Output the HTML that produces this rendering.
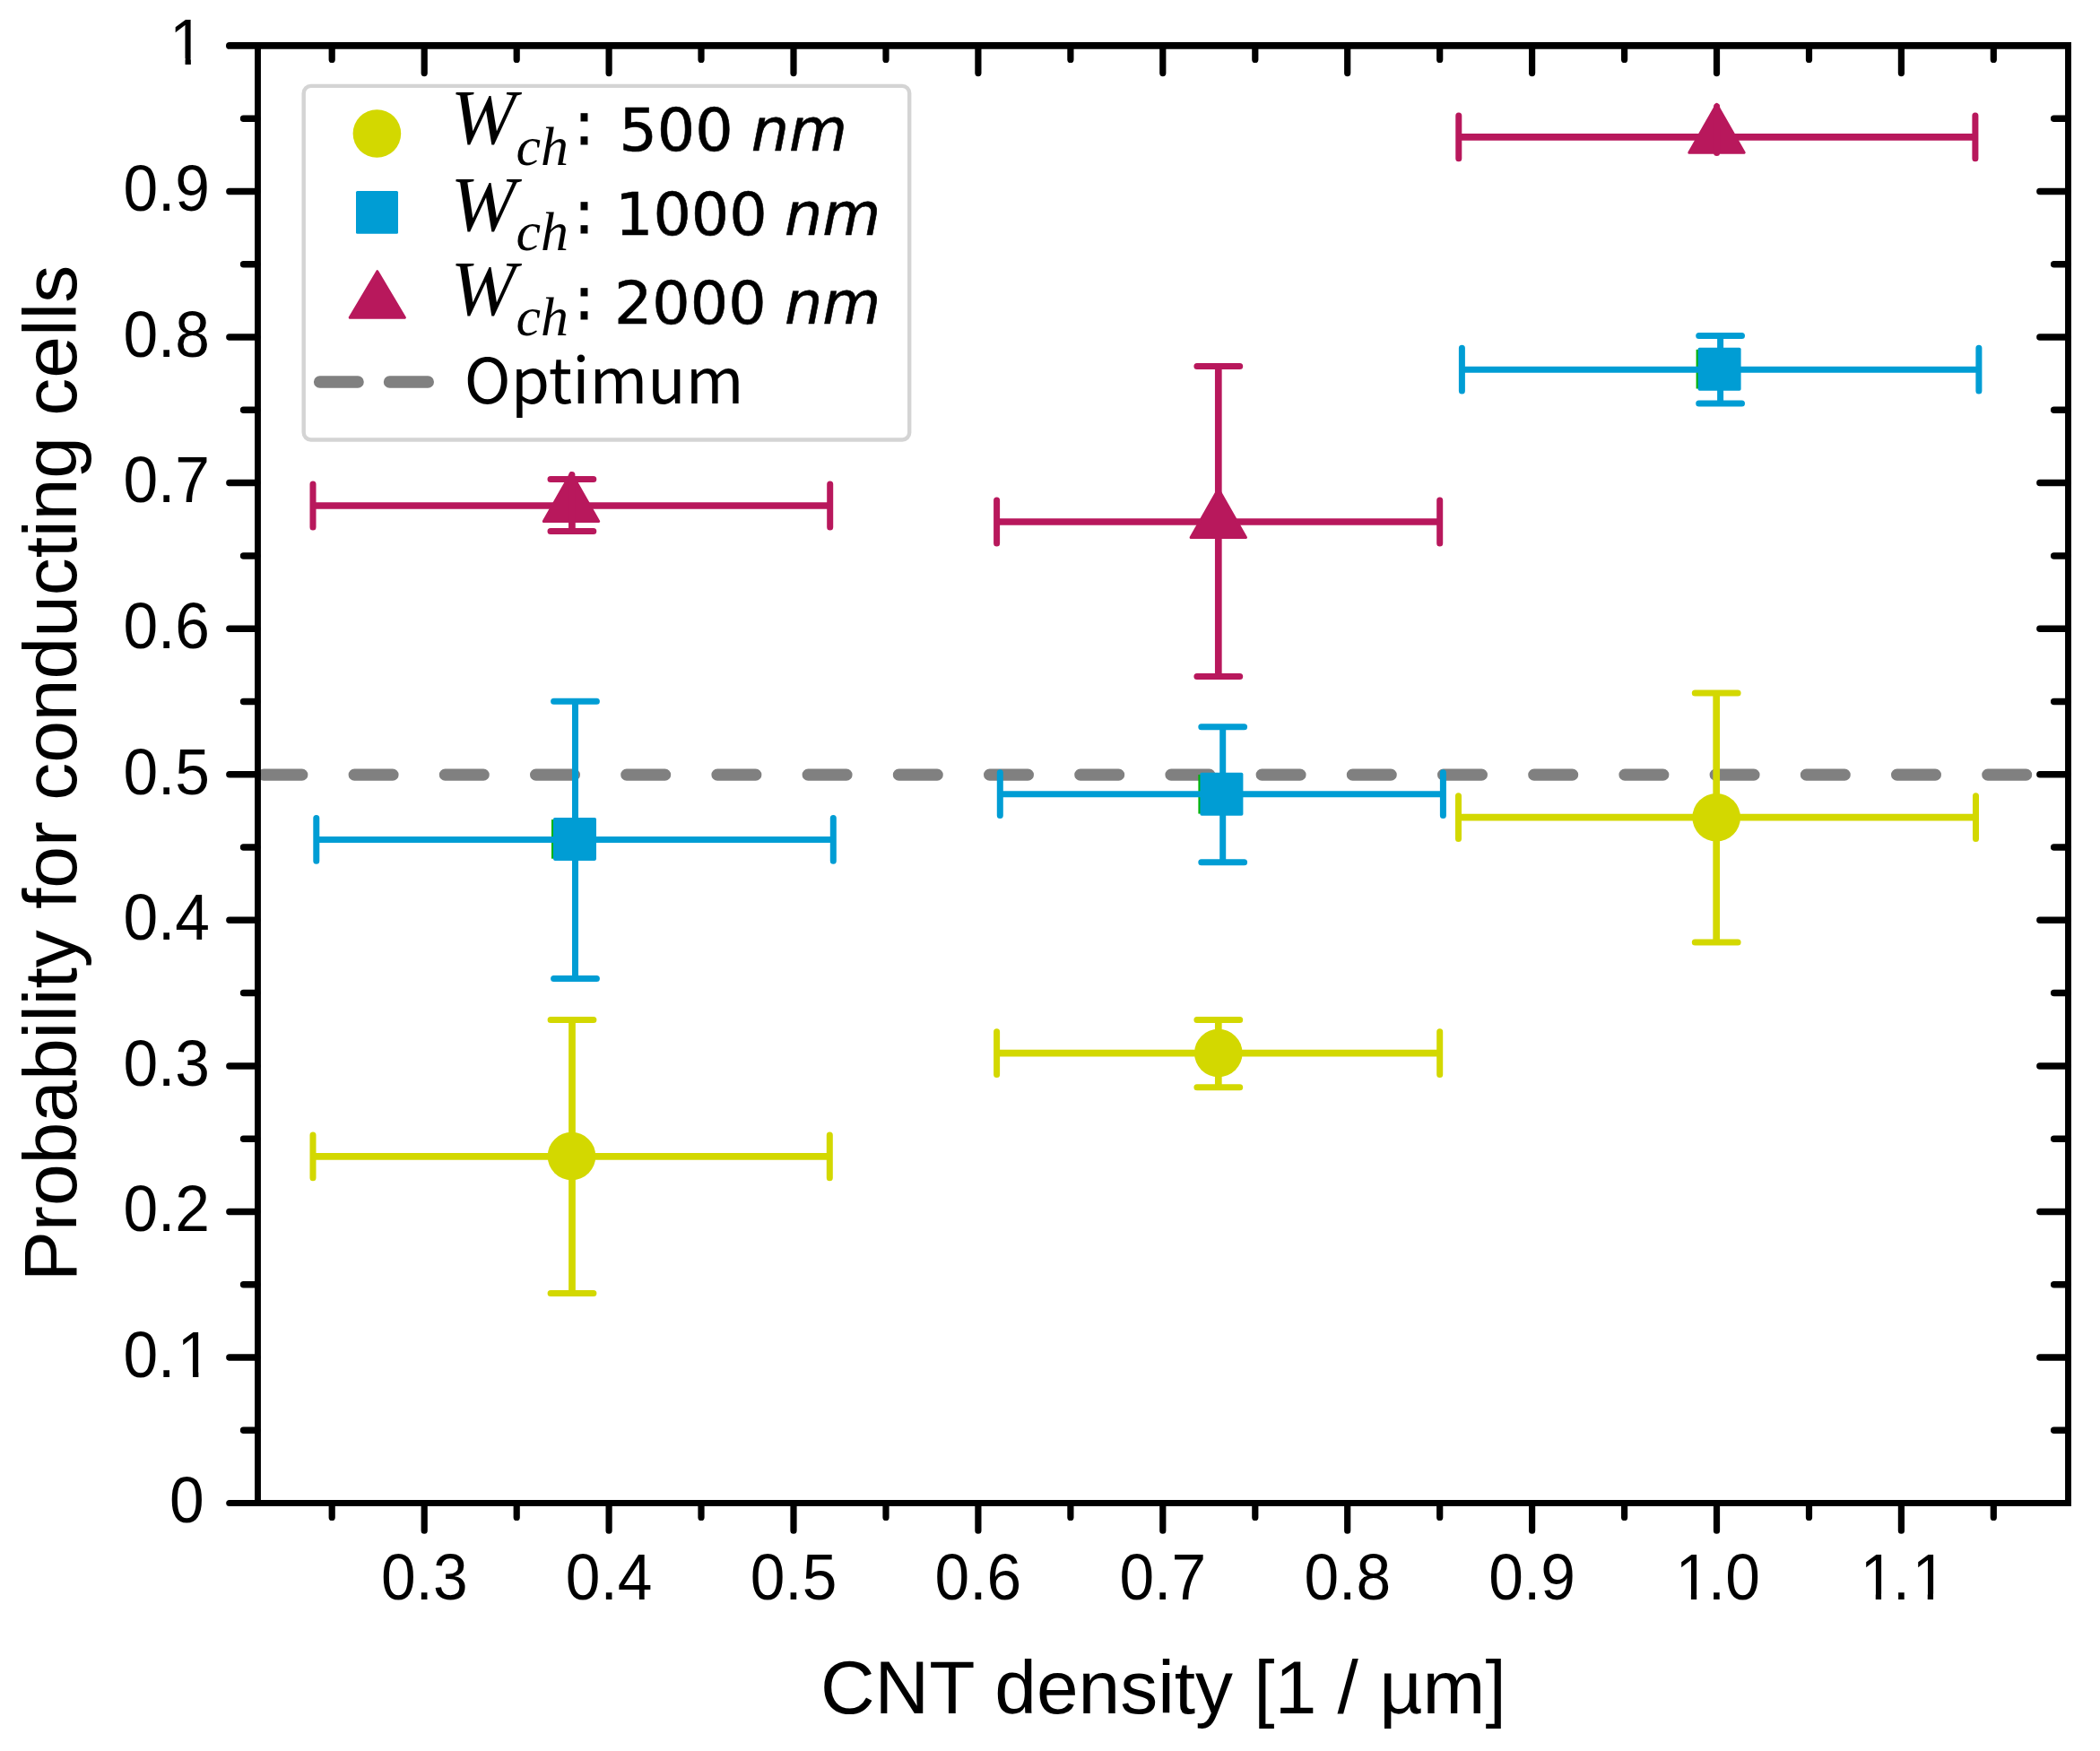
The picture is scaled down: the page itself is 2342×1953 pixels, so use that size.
<!DOCTYPE html>
<html lang="en"><head><meta charset="utf-8"><title>Probability for conducting cells vs CNT density</title>
<style>html,body{margin:0;padding:0;background:#fff;}body{width:2342px;height:1953px;overflow:hidden;}svg{display:block;}
.tl{font-family:"Liberation Sans",sans-serif;font-size:69.5px;fill:#000;}
.al{font-family:"Liberation Sans",sans-serif;font-size:83.9px;fill:#000;}
.lg{font-family:"DejaVu Sans","Liberation Sans",sans-serif;font-size:66.7px;fill:#000;stroke:#000;stroke-width:0.6px;}
.cl{stroke-width:1.1px;}
.op{font-family:"Noto Sans CJK SC","DejaVu Sans","Liberation Sans",sans-serif;font-size:70px;fill:#000;}
.mi{font-family:"Liberation Serif","DejaVu Serif",serif;font-style:italic;fill:#000;}
</style></head><body>
<svg width="2342" height="1953" viewBox="0 0 2342 1953">
<rect width="2342" height="1953" fill="#fff"/>
<g stroke="#808080" stroke-width="13.2" stroke-linecap="round" fill="none">
<path d="M294.0 864.2H336.8M395.2 864.2H438.0M496.4 864.2H539.2M597.6 864.2H640.4M698.8 864.2H741.6M800.0 864.2H842.8M901.2 864.2H944.0M1002.4 864.2H1045.2M1103.6 864.2H1146.4M1204.8 864.2H1247.6M1306.0 864.2H1348.8M1407.2 864.2H1450.0M1508.4 864.2H1551.2M1609.6 864.2H1652.4M1710.8 864.2H1753.6M1812.0 864.2H1854.8M1913.2 864.2H1956.0M2014.4 864.2H2057.2M2115.6 864.2H2158.4M2216.8 864.2H2259.6"/>
</g>
<g id="series-500">
<g stroke="#d3d800" fill="none"><path stroke-width="7.7" d="M349.0 1289.9H925.3"/><path stroke-width="7.0" stroke-linecap="round" d="M349.0 1266.0V1313.8M925.3 1266.0V1313.8"/><path stroke-width="7.7" d="M638.0 1137.4V1442.4"/><path stroke-width="7.0" stroke-linecap="round" d="M614.1 1137.4H661.9M614.1 1442.4H661.9"/></g>
<circle cx="637.5" cy="1289.6" r="26.8" fill="#d3d800"/>
<g stroke="#d3d800" fill="none"><path stroke-width="7.7" d="M1111.6 1174.6H1605.7"/><path stroke-width="7.0" stroke-linecap="round" d="M1111.6 1150.7V1198.5M1605.7 1150.7V1198.5"/><path stroke-width="7.7" d="M1358.8 1137.5V1212.8"/><path stroke-width="7.0" stroke-linecap="round" d="M1334.9 1137.5H1382.7M1334.9 1212.8H1382.7"/></g>
<circle cx="1358.8" cy="1174.6" r="26.8" fill="#d3d800"/>
<g stroke="#d3d800" fill="none"><path stroke-width="7.7" d="M1626.5 911.7H2203.5"/><path stroke-width="7.0" stroke-linecap="round" d="M1626.5 887.8V935.6M2203.5 887.8V935.6"/><path stroke-width="7.7" d="M1914.2 773.0V1051.0"/><path stroke-width="7.0" stroke-linecap="round" d="M1890.3 773.0H1938.1M1890.3 1051.0H1938.1"/></g>
<circle cx="1914.2" cy="911.7" r="26.8" fill="#d3d800"/>
</g>
<g id="series-1000">
<rect x="615.0" y="914.1" width="4" height="43.6" fill="#00b400"/>
<g stroke="#009dd4" fill="none"><path stroke-width="7.0" d="M352.8 936.4H929.3"/><path stroke-width="7.0" stroke-linecap="round" d="M352.8 912.5V960.3M929.3 912.5V960.3"/><path stroke-width="7.0" d="M641.5 782.3V1091.5"/><path stroke-width="7.0" stroke-linecap="round" d="M617.6 782.3H665.4M617.6 1091.5H665.4"/></g>
<rect x="617.0" y="911.9" width="48.0" height="48.0" rx="1.8" fill="#009dd4"/>
<rect x="1336.4" y="864.0" width="4" height="43.6" fill="#00b400"/>
<g stroke="#009dd4" fill="none"><path stroke-width="7.0" d="M1115.3 885.7H1609.4"/><path stroke-width="7.0" stroke-linecap="round" d="M1115.3 861.8V909.6M1609.4 861.8V909.6"/><path stroke-width="7.0" d="M1363.7 810.7V961.7"/><path stroke-width="7.0" stroke-linecap="round" d="M1339.8 810.7H1387.6M1339.8 961.7H1387.6"/></g>
<rect x="1338.4" y="861.8" width="48.0" height="48.0" rx="1.8" fill="#009dd4"/>
<rect x="1891.6" y="389.9" width="4" height="43.6" fill="#00b400"/>
<g stroke="#009dd4" fill="none"><path stroke-width="7.0" d="M1630.4 412.2H2206.9"/><path stroke-width="7.0" stroke-linecap="round" d="M1630.4 388.3V436.1M2206.9 388.3V436.1"/><path stroke-width="7.0" d="M1918.6 374.5V450.0"/><path stroke-width="7.0" stroke-linecap="round" d="M1894.7 374.5H1942.5M1894.7 450.0H1942.5"/></g>
<rect x="1893.6" y="387.7" width="48.0" height="48.0" rx="1.8" fill="#009dd4"/>
</g>
<g id="series-2000">
<g stroke="#b8185c" fill="none"><path stroke-width="7.7" d="M349.0 564.0H925.7"/><path stroke-width="7.0" stroke-linecap="round" d="M349.0 540.1V587.9M925.7 540.1V587.9"/><path stroke-width="7.7" d="M637.9 534.4V592.5"/><path stroke-width="7.0" stroke-linecap="round" d="M614.0 534.4H661.8M614.0 592.5H661.8"/></g>
<path d="M637.0 527.5L667.7 581.4L606.3 581.4Z" fill="#b8185c" stroke="#b8185c" stroke-width="3.0" stroke-linejoin="round"/>
<path d="M637.9 529.4V581.0" stroke="#b8185c" stroke-width="7" stroke-linecap="round" fill="none"/>
<g stroke="#b8185c" fill="none"><path stroke-width="7.7" d="M1111.6 582.0H1605.7"/><path stroke-width="7.0" stroke-linecap="round" d="M1111.6 558.1V605.9M1605.7 558.1V605.9"/><path stroke-width="7.7" d="M1358.8 408.6V754.6"/><path stroke-width="7.0" stroke-linecap="round" d="M1334.9 408.6H1382.7M1334.9 754.6H1382.7"/></g>
<path d="M1358.8 545.5L1389.5 599.4L1328.1 599.4Z" fill="#b8185c" stroke="#b8185c" stroke-width="3.0" stroke-linejoin="round"/>
<g stroke="#b8185c" fill="none"><path stroke-width="7.7" d="M1626.8 152.9H2202.9"/><path stroke-width="7.0" stroke-linecap="round" d="M1626.8 129.0V176.8M2202.9 129.0V176.8"/></g>
<path d="M1914.5 116.4L1945.2 170.3L1883.8 170.3Z" fill="#b8185c" stroke="#b8185c" stroke-width="3.0" stroke-linejoin="round"/>
<path d="M1914.6 118.8V170.4" stroke="#b8185c" stroke-width="7" stroke-linecap="round" fill="none"/>
</g>
<g id="legend">
<rect x="338.7" y="95.9" width="675.5" height="394.6" rx="8" ry="8" fill="#fff" fill-opacity="0.8" stroke="#d4d4d4" stroke-width="4.4"/>
<circle cx="420.4" cy="149.0" r="26.8" fill="#d3d800"/>
<rect x="397.0" y="212.9" width="47.0" height="47.9" rx="1.5" fill="#009dd4"/>
<path d="M420.8 302.7L451.4 354.2L390.2 354.2Z" fill="#b8185c" stroke="#b8185c" stroke-width="3" stroke-linejoin="round"/>
<path d="M356.6 426H399.1M434.5 426H477.3" stroke="#808080" stroke-width="13.4" stroke-linecap="round" fill="none"/>
<text class="mi" x="502.6" y="159.9" font-size="87.5">W</text>
<text class="mi" x="575.6" y="184.4" font-size="62">ch</text>
<text class="lg cl" x="640.2" y="160.9">:</text>
<text class="lg" x="690.4" y="168.0">500</text>
<text class="lg" font-style="italic" x="837.7" y="168.0">nm</text>
<text class="mi" x="502.6" y="256.5" font-size="87.5">W</text>
<text class="mi" x="575.6" y="279.3" font-size="62">ch</text>
<text class="lg cl" x="640.2" y="259.9">:</text>
<text class="lg" x="686.0" y="261.9">1000</text>
<text class="lg" font-style="italic" x="874.9" y="261.9">nm</text>
<text class="mi" x="502.6" y="351.2" font-size="87.5">W</text>
<text class="mi" x="575.6" y="374.4" font-size="62">ch</text>
<text class="lg cl" x="640.2" y="356.3">:</text>
<text class="lg" x="684.9" y="361.0">2000</text>
<text class="lg" font-style="italic" x="874.9" y="361.0">nm</text>
<text class="op" x="517.8" y="449.9">Optimum</text>
</g>
<g id="axes" stroke="#000" fill="none">
<path stroke-width="7.5" stroke-linecap="round" d="M271.6 1595.3H286.9M2290.7 1595.3H2305.9M255.9 1514.0H286.9M2274.9 1514.0H2305.9M271.6 1432.7H286.9M2290.7 1432.7H2305.9M255.9 1351.5H286.9M2274.9 1351.5H2305.9M271.6 1270.2H286.9M2290.7 1270.2H2305.9M255.9 1188.9H286.9M2274.9 1188.9H2305.9M271.6 1107.6H286.9M2290.7 1107.6H2305.9M255.9 1026.3H286.9M2274.9 1026.3H2305.9M271.6 945.0H286.9M2290.7 945.0H2305.9M255.9 863.7H286.9M2274.9 863.7H2305.9M271.6 782.5H286.9M2290.7 782.5H2305.9M255.9 701.2H286.9M2274.9 701.2H2305.9M271.6 619.9H286.9M2290.7 619.9H2305.9M255.9 538.6H286.9M2274.9 538.6H2305.9M271.6 457.3H286.9M2290.7 457.3H2305.9M255.9 376.0H286.9M2274.9 376.0H2305.9M271.6 294.8H286.9M2290.7 294.8H2305.9M255.9 213.5H286.9M2274.9 213.5H2305.9M271.6 132.2H286.9M2290.7 132.2H2305.9"/>
<path stroke-width="7.2" stroke-linecap="round" d="M370.2 51.5V66.4M370.2 1677.1V1692.4M473.2 51.5V81.6M473.2 1677.1V1707.2M576.2 51.5V66.4M576.2 1677.1V1692.4M679.1 51.5V81.6M679.1 1677.1V1707.2M782.0 51.5V66.4M782.0 1677.1V1692.4M885.0 51.5V81.6M885.0 1677.1V1707.2M988.0 51.5V66.4M988.0 1677.1V1692.4M1090.9 51.5V81.6M1090.9 1677.1V1707.2M1193.9 51.5V66.4M1193.9 1677.1V1692.4M1296.8 51.5V81.6M1296.8 1677.1V1707.2M1399.8 51.5V66.4M1399.8 1677.1V1692.4M1502.7 51.5V81.6M1502.7 1677.1V1707.2M1605.7 51.5V66.4M1605.7 1677.1V1692.4M1708.6 51.5V81.6M1708.6 1677.1V1707.2M1811.6 51.5V66.4M1811.6 1677.1V1692.4M1914.5 51.5V81.6M1914.5 1677.1V1707.2M2017.5 51.5V66.4M2017.5 1677.1V1692.4M2120.4 51.5V81.6M2120.4 1677.1V1707.2M2223.3 51.5V66.4M2223.3 1677.1V1692.4"/>
<path stroke-width="7.9" stroke-linecap="round" d="M255.95 50.9H287.50"/>
<path stroke-width="7.2" stroke-linecap="round" d="M255.80 1676.5H287.50"/>
<path stroke-width="7.9" d="M284.05 50.9H2309.95"/>
<path stroke-width="7.2" d="M284.05 1676.5H2309.95"/>
<path stroke-width="6.9" d="M287.5 50.9V1676.5"/>
<path stroke-width="6.9" d="M2306.5 50.9V1676.5"/>
</g>
<g id="ticklabels">
<text class="tl" transform="translate(0 1698.4) scale(1 1.04)" x="189.1">0</text>
<text class="tl" transform="translate(0 1535.8) scale(1 1.04)" x="137.4 176.0 197.6">0.1</text><rect x="201.94" y="1529.63" width="13.10" height="7.20" fill="#fff"/><rect x="221.35" y="1529.63" width="12.56" height="7.20" fill="#fff"/>
<text class="tl" transform="translate(0 1373.3) scale(1 1.04)" x="137.4 176.0 195.3">0.2</text>
<text class="tl" transform="translate(0 1210.7) scale(1 1.04)" x="137.4 176.0 195.3">0.3</text>
<text class="tl" transform="translate(0 1048.1) scale(1 1.04)" x="137.4 176.0 195.3">0.4</text>
<text class="tl" transform="translate(0 885.5) scale(1 1.04)" x="137.4 176.0 195.3">0.5</text>
<text class="tl" transform="translate(0 723.0) scale(1 1.04)" x="137.4 176.0 195.3">0.6</text>
<text class="tl" transform="translate(0 560.4) scale(1 1.04)" x="137.4 176.0 195.3">0.7</text>
<text class="tl" transform="translate(0 397.8) scale(1 1.04)" x="137.4 176.0 195.3">0.8</text>
<text class="tl" transform="translate(0 235.3) scale(1 1.04)" x="137.4 176.0 195.3">0.9</text>
<text class="tl" transform="translate(0 71.5) scale(1 1.04)" x="189.1">1</text><rect x="193.44" y="65.30" width="13.10" height="7.20" fill="#fff"/><rect x="212.85" y="65.30" width="12.56" height="7.20" fill="#fff"/>
<text class="tl" transform="translate(0 1784.0) scale(1 1.04)" x="424.9 463.5 482.9">0.3</text>
<text class="tl" transform="translate(0 1784.0) scale(1 1.04)" x="630.8 669.4 688.8">0.4</text>
<text class="tl" transform="translate(0 1784.0) scale(1 1.04)" x="836.7 875.3 894.7">0.5</text>
<text class="tl" transform="translate(0 1784.0) scale(1 1.04)" x="1042.6 1081.2 1100.6">0.6</text>
<text class="tl" transform="translate(0 1784.0) scale(1 1.04)" x="1248.5 1287.1 1306.5">0.7</text>
<text class="tl" transform="translate(0 1784.0) scale(1 1.04)" x="1454.4 1493.0 1512.4">0.8</text>
<text class="tl" transform="translate(0 1784.0) scale(1 1.04)" x="1660.3 1698.9 1718.3">0.9</text>
<text class="tl" transform="translate(0 1784.0) scale(1 1.04)" x="1868.5 1904.8 1924.2">1.0</text><rect x="1872.79" y="1777.80" width="13.10" height="7.20" fill="#fff"/><rect x="1892.19" y="1777.80" width="12.56" height="7.20" fill="#fff"/>
<text class="tl" transform="translate(0 1784.0) scale(1 1.04)" x="2074.4 2110.7 2132.4">1.1</text><rect x="2078.69" y="1777.80" width="13.10" height="7.20" fill="#fff"/><rect x="2098.09" y="1777.80" width="12.56" height="7.20" fill="#fff"/><rect x="2136.65" y="1777.80" width="13.10" height="7.20" fill="#fff"/><rect x="2156.05" y="1777.80" width="12.56" height="7.20" fill="#fff"/>
</g>
<text class="al" text-anchor="middle" x="1297.4" y="1910.6">CNT density [1 / µm]</text>
<text class="al" text-anchor="middle" transform="translate(85.0 862.4) rotate(-90)">Probability for conducting cells</text>
</svg></body></html>
